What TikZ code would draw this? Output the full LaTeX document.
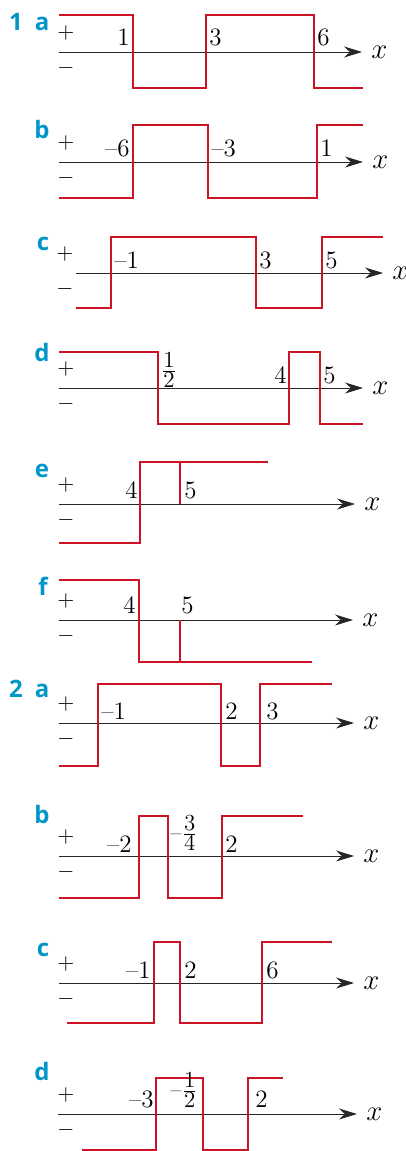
\documentclass[tikz,border=0pt]{standalone}
\usepackage{fontspec}
\newfontfamily\qfont{Open Sans}
\usetikzlibrary{arrows.meta}
\definecolor{signred}{RGB}{205,20,38}
\definecolor{qblue}{RGB}{0,150,200}

\begin{document}
\begin{tikzpicture}[x=0.5pt,y=-0.5pt,
    signe/.style={signred,line width=1.3pt},
    axe/.style={black!85,line width=0.5pt,-{Stealth[length=9pt,width=5.5pt]}},
    num/.style={font=\fontsize{12.5}{14}\selectfont,inner sep=0pt},
    frac/.style={font=\fontsize{11.5}{13}\selectfont,inner sep=0pt},
    pm/.style={font=\fontsize{11}{13}\selectfont,inner sep=0pt},
    var/.style={font=\fontsize{14}{16}\selectfont,inner sep=0pt,anchor=west},
    quest/.style={font=\qfont\bfseries\fontsize{12}{14}\selectfont,text=qblue,inner sep=0pt,anchor=base}]
    \useasboundingbox (0,0) rectangle (406,1151);

    % 1 a
    \node[quest] (q1) at (16,31) {1};
    \node[quest] (q1a) at (42,31) {a};
    \draw[axe] (59,52) -- (362,52);
    \node[var] (x1a) at (371,52) {$x$};
    \node[pm] (p1a) at (66,33) {$+$};
    \node[pm] (m1a) at (66,68) {$-$};
    \draw[signe] (59,15) -| (133,88) -| (206,15) -| (314,88) -- (363,88);
    \node[num,anchor=base east] (a1) at (130,46) {1};
    \node[num,anchor=base west] (a3) at (209,46) {3};
    \node[num,anchor=base west] (a6) at (317,46) {6};

    % 1 b
    \node[quest] (q1b) at (42,138) {b};
    \draw[axe] (59,162) -- (363,162);
    \node[var] (x1b) at (372,162) {$x$};
    \node[pm] (p1b) at (66,143) {$+$};
    \node[pm] (m1b) at (66,178) {$-$};
    \draw[signe] (59,198) -| (133,125) -| (208,198) -| (317,125) -- (363,125);
    \node[num,anchor=base east] (b6) at (130,156) {--6};
    \node[num,anchor=base west] (b3) at (211,156) {--3};
    \node[num,anchor=base west] (b1) at (320,156) {1};

    % 1 c
    \node[quest] (q1c) at (43,250) {c};
    \draw[axe] (76,273) -- (383,273);
    \node[var] (x1c) at (392,273) {$x$};
    \node[pm] (p1c) at (65,254) {$+$};
    \node[pm] (m1c) at (65,289) {$-$};
    \draw[signe] (76,308) -| (111,237) -| (256,308) -| (322,237) -- (383,237);
    \node[num,anchor=base west] (c1) at (114,268) {--1};
    \node[num,anchor=base west] (c3) at (259,268) {3};
    \node[num,anchor=base west] (c5) at (325,268) {5};

    % 1 d
    \node[quest] (q1d) at (42,361) {d};
    \draw[axe] (59,388) -- (363,388);
    \node[var] (x1d) at (372,388) {$x$};
    \node[pm] (p1d) at (66,369) {$+$};
    \node[pm] (m1d) at (66,404) {$-$};
    \draw[signe] (59,352) -| (158,424) -| (289,352) -| (320,424) -- (363,424);
    \node[frac] (dh) at (169,370) {$\frac{\mbox{1}}{\mbox{2}}$};
    \node[num,anchor=base east] (d4) at (287,383) {4};
    \node[num,anchor=base west] (d5) at (323,383) {5};

    % 1 e
    \node[quest] (q1e) at (42,477) {e};
    \draw[axe] (59,504) -- (355,504);
    \node[var] (x1e) at (364,504) {$x$};
    \node[pm] (p1e) at (66,485) {$+$};
    \node[pm] (m1e) at (66,520) {$-$};
    \draw[signe] (59,543) -| (140,462) -- (268,462);
    \draw[signe] (180,462) -- (180,504);
    \node[num,anchor=base east] (e4) at (138,498) {4};
    \node[num,anchor=base west] (e5) at (184,498) {5};

    % 1 f
    \node[quest] (q1f) at (43,595) {f};
    \draw[axe] (59,620) -- (353,620);
    \node[var] (x1f) at (362,620) {$x$};
    \node[pm] (p1f) at (66,601) {$+$};
    \node[pm] (m1f) at (66,636) {$-$};
    \draw[signe] (59,580) -| (139,662) -- (312,662);
    \draw[signe] (180,620) -- (180,662);
    \node[num,anchor=base east] (f4) at (136,613) {4};
    \node[num,anchor=base west] (f5) at (181,613) {5};

    % 2 a
    \node[quest] (q2) at (16,697) {2};
    \node[quest] (q2a) at (42,697) {a};
    \draw[axe] (59,723) -- (354,723);
    \node[var] (x2a) at (363,723) {$x$};
    \node[pm] (p2a) at (66,704) {$+$};
    \node[pm] (m2a) at (66,739) {$-$};
    \draw[signe] (59,766) -| (98,684) -| (221,766) -| (260,684) -- (332,684);
    \node[num,anchor=base west] (g1) at (101,719) {--1};
    \node[num,anchor=base west] (g2) at (225,719) {2};
    \node[num,anchor=base west] (g3) at (266,719) {3};

    % 2 b
    \node[quest] (q2b) at (42,823) {b};
    \draw[axe] (59,856) -- (354,856);
    \node[var] (x2b) at (363,856) {$x$};
    \node[pm] (p2b) at (66,837) {$+$};
    \node[pm] (m2b) at (66,872) {$-$};
    \draw[signe] (59,898) -| (139,816) -| (168,898) -| (222,816) -- (303,816);
    \node[num,anchor=base east] (h2) at (132,852) {--2};
    \node[frac,anchor=west] (hq) at (170,833) {--$\frac{\mbox{3}}{\mbox{4}}$};
    \node[num,anchor=base west] (h2b) at (225,852) {2};

    % 2 c
    \node[quest] (q2c) at (43,956) {c};
    \draw[axe] (59,983) -- (354,983);
    \node[var] (x2c) at (363,983) {$x$};
    \node[pm] (p2c) at (66,964) {$+$};
    \node[pm] (m2c) at (66,999) {$-$};
    \draw[signe] (67,1023) -| (154,942) -| (180,1023) -| (262,942) -- (332,942);
    \node[num,anchor=base east] (k1) at (151,978) {--1};
    \node[num,anchor=base west] (k2) at (184,978) {2};
    \node[num,anchor=base west] (k6) at (266,978) {6};

    % 2 d
    \node[quest] (q2d) at (42,1080) {d};
    \draw[axe] (58,1114) -- (357,1114);
    \node[var] (x2d) at (366,1114) {$x$};
    \node[pm] (p2d) at (66,1095) {$+$};
    \node[pm] (m2d) at (66,1130) {$-$};
    \draw[signe] (82,1150) -| (156,1078) -| (203,1150) -| (248,1078) -- (283,1078);
    \node[num,anchor=base east] (l3) at (154,1107) {--3};
    \node[frac,anchor=west] (lh) at (170,1090) {--$\frac{\mbox{1}}{\mbox{2}}$};
    \node[num,anchor=base west] (l2) at (255,1107) {2};
\end{tikzpicture}
\end{document}
